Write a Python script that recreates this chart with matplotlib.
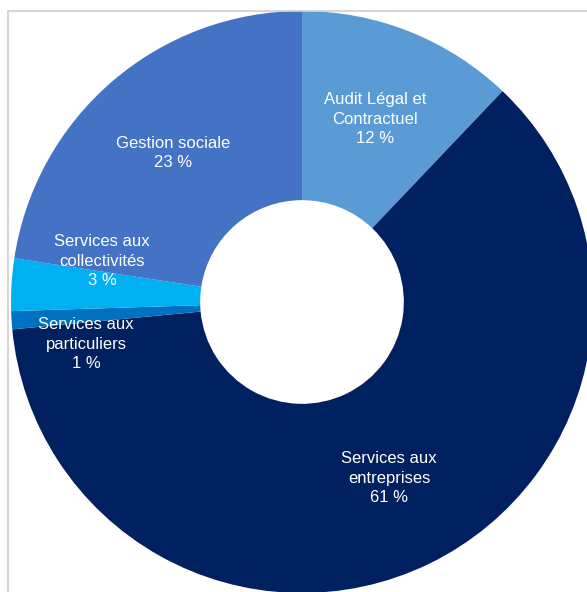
import matplotlib
matplotlib.use("Agg")
import matplotlib.pyplot as plt
from matplotlib.lines import Line2D

categories = ["Audit Légal et\nContractuel", "Services aux\nentreprises", "Services aux\nparticuliers",
              "Services aux\ncollectivités", "Gestion sociale"]
values = [12.1, 61.4, 1.0, 2.9, 22.6]
colors = ["#5B9BD5", "#002060", "#0070C0", "#00B0F0", "#4472C4"]
# label centres in pixel coordinates (x, y from top)
label_px = [(375, 119), (389, 478), (86, 344), (102, 261), (173, 153)]

W, H = 587, 592
cx, cy, R = 302, 302, 291

fig = plt.figure(figsize=(W / 100, H / 100), dpi=100)
fig.patch.set_facecolor("white")
ax = fig.add_axes([0, 0, 1, 1])
ax.pie(values, colors=colors, startangle=90, counterclock=False, radius=1.0,
       wedgeprops=dict(width=0.65, edgecolor="none", linewidth=0))
xmin = -cx / R
ymin = -(H - cy) / R
ax.set_xlim(xmin, xmin + W / R)
ax.set_ylim(ymin, ymin + H / R)
ax.set_aspect("auto")
ax.axis("off")

for cat, v, (px, py) in zip(categories, values, label_px):
    ax.text((px - cx) / R, (cy - py) / R, f"{cat}\n{round(v)} %", ha="center", va="center",
            color="white", fontsize=12, family=["Liberation Sans", "DejaVu Sans"],
            linespacing=1.36)

# light frame lines (top and left)
fig.add_artist(Line2D([8 / W, 1], [1 - 11 / H, 1 - 11 / H], transform=fig.transFigure,
                      color="#D0D0D0", linewidth=1.2))
fig.add_artist(Line2D([8 / W, 8 / W], [0, 1 - 11 / H], transform=fig.transFigure,
                      color="#D0D0D0", linewidth=1.2))

fig.savefig("out.png", dpi=100, facecolor="white")
